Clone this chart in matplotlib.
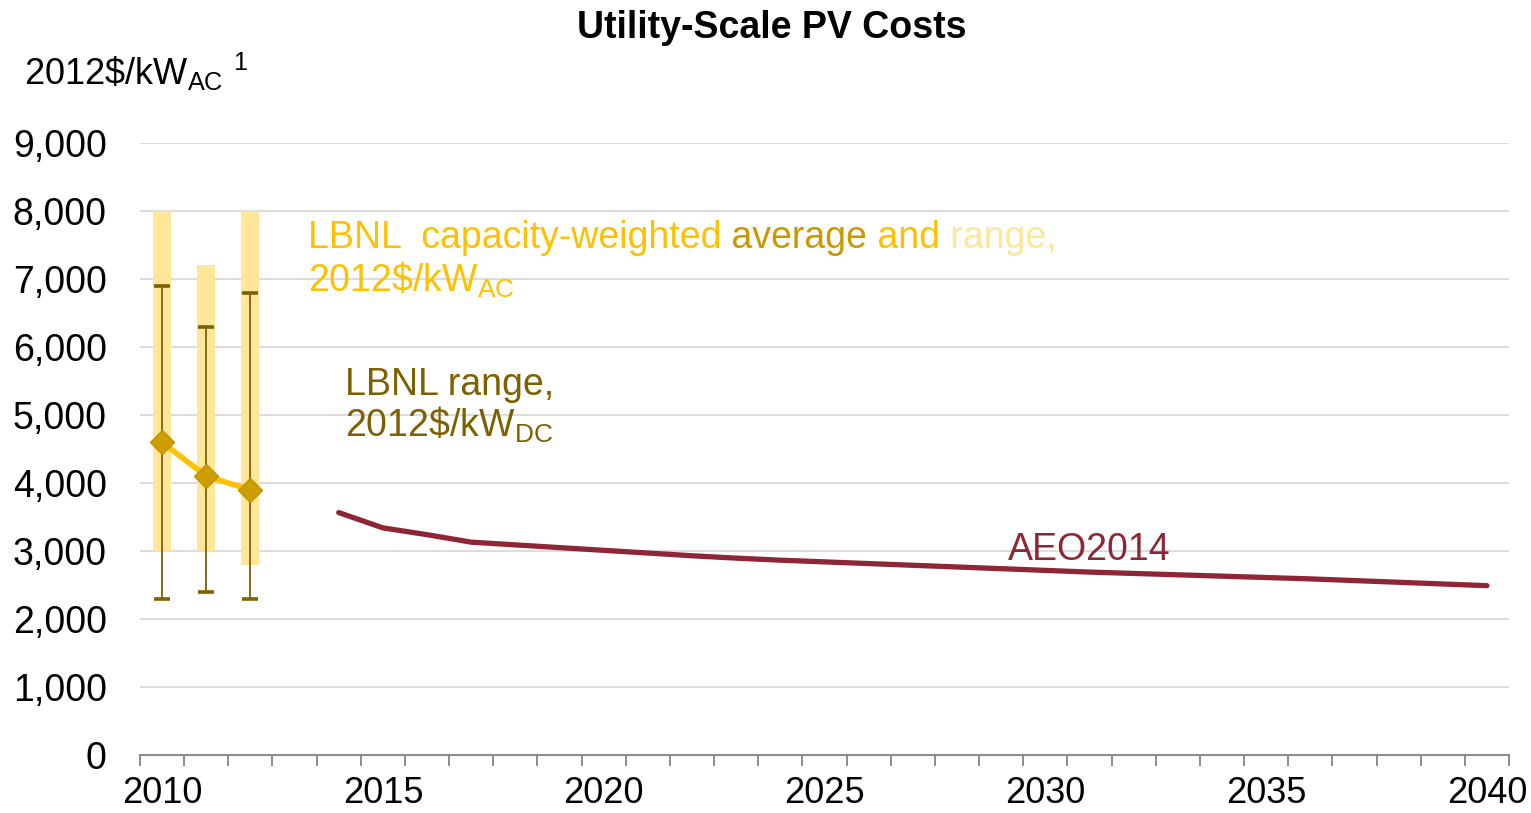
import matplotlib
matplotlib.use("Agg")
import matplotlib.pyplot as plt
import numpy as np

plt.rcParams["font.family"] = ["Liberation Sans", "DejaVu Sans"]
plt.rcParams["mathtext.fontset"] = "custom"
plt.rcParams["mathtext.rm"] = "Liberation Sans"
plt.rcParams["mathtext.it"] = "Liberation Sans:italic"

# LBNL observed costs
lbnl_years = [2010, 2011, 2012]
ac_range_low = [3000, 3000, 2800]
ac_range_high = [8000, 7200, 8000]
ac_average = [4600, 4100, 3900]
dc_range_low = [2300, 2400, 2300]
dc_range_high = [6900, 6300, 6800]

# AEO2014 projection
aeo_years = list(range(2014, 2041))
aeo_values = [3565, 3340, 3240, 3130, 3090, 3050, 3010, 2970, 2930, 2895,
              2865, 2840, 2815, 2790, 2765, 2740, 2715, 2690, 2670, 2650,
              2630, 2610, 2590, 2565, 2540, 2515, 2490]

GOLD = "#FFC000"
GOLD_DARK = "#C99A00"
GOLD_LIGHT = "#FFE699"
OLIVE = "#7F6000"
AEO_RED = "#8E2635"
FS = 27

fig = plt.figure(figsize=(15.31, 8.13), dpi=100)
ax = fig.add_axes([140 / 1531, 1 - 755 / 813, 1369 / 1531, 612 / 813])

# range bars
ax.bar(lbnl_years, np.array(ac_range_high) - np.array(ac_range_low),
       bottom=ac_range_low, width=0.41, color=GOLD_LIGHT, zorder=2)

# DC range whiskers
dc_lo = np.array(dc_range_low)
dc_hi = np.array(dc_range_high)
ax.errorbar(lbnl_years, dc_lo, yerr=[np.zeros(3), dc_hi - dc_lo], fmt="none",
            ecolor=OLIVE, elinewidth=1.3, capsize=5.5, capthick=2.6, zorder=3)

# capacity-weighted average
ax.plot(lbnl_years, ac_average, color=GOLD, lw=4, zorder=4)
ax.plot(lbnl_years, ac_average, ls="none", marker="D", markersize=12,
        markerfacecolor="#CC9E00", markeredgecolor="#BF9000", zorder=5)

# AEO2014
ax.plot(aeo_years, aeo_values, color=AEO_RED, lw=3.8, solid_capstyle="round",
        solid_joinstyle="round", zorder=4)

ax.set_xlim(2009.5, 2040.5)
ax.set_ylim(0, 9000)
ax.set_yticks(np.arange(0, 9001, 1000))
ax.set_yticklabels([f"{v:,}" for v in range(0, 9001, 1000)])
ax.set_xticks(np.arange(2010, 2041, 5))
ax.set_xticks(np.arange(2009.5, 2041, 1), minor=True)
ax.tick_params(axis="x", which="major", length=0, pad=15, labelsize=26)
ax.tick_params(axis="x", which="minor", length=8, width=1.4, color="#8C8C8C")
ax.tick_params(axis="y", length=0, pad=24, labelsize=FS)
ax.grid(axis="y", color="#D9D9D9", lw=1.3, zorder=0)
ax.set_axisbelow(True)
for side in ["left", "right", "top"]:
    ax.spines[side].set_visible(False)
ax.spines["bottom"].set_color("#8C8C8C")
ax.spines["bottom"].set_linewidth(1.5)
ax.spines["bottom"].set_zorder(6)

# titles
fig.text(772 / 1531, 1 - 28 / 813, "Utility-Scale PV Costs", ha="center",
         va="center", fontsize=FS, fontweight="bold")
fig.text(24 / 1531, 1 - 85 / 813, r"2012\$/kW$_{\mathrm{AC}}\ ^{1}$",
         ha="left", va="baseline", fontsize=26)

# multi-coloured LBNL label
t = ax.text(2013.30, 7456, "LBNL  capacity-weighted", color=GOLD, fontsize=FS,
            va="baseline", ha="left")
for piece, col in [(" average", GOLD_DARK), (" and", GOLD), (" range,", GOLD_LIGHT)]:
    t = ax.annotate(piece, xy=(1, 0), xycoords=t, va="bottom", ha="left",
                    color=col, fontsize=FS)
ax.text(2013.30, 6809, r"2012\$/kW$_{\mathrm{AC}}$", color=GOLD, fontsize=FS,
        va="baseline", ha="left")

ax.text(2014.14, 5294, "LBNL range,", color=OLIVE, fontsize=FS,
        va="baseline", ha="left")
ax.text(2014.14, 4676, r"2012\$/kW$_{\mathrm{DC}}$", color=OLIVE, fontsize=FS,
        va="baseline", ha="left")

ax.text(2029.16, 2868, "AEO2014", color=AEO_RED, fontsize=FS,
        va="baseline", ha="left")

fig.savefig("out.png", dpi=100)
